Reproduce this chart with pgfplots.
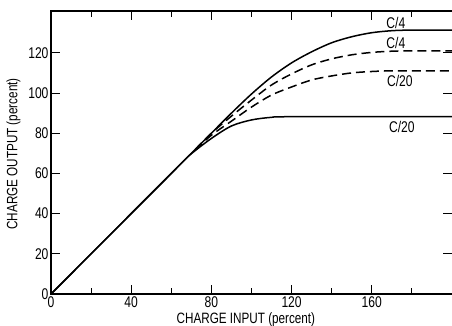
\documentclass[border=0pt]{standalone}
\usepackage{fontspec}
\setmainfont{Liberation Sans}[FakeStretch=0.78]
\usepackage{pgfplots}
\pgfplotsset{compat=1.18}
\begin{document}
\begin{tikzpicture}
\begin{axis}[
  scale only axis, width=401pt, height=283pt,
  xmin=0, xmax=200, ymin=0, ymax=140.8,
  xtick={0,40,80,120,160}, minor xtick={20,60,100,140,180},
  ytick={0,20,40,60,80,100,120},
  tick align=inside,
  major tick length=9pt, minor tick length=6pt,
  tick style={black, line width=0.9pt},
  axis line style={draw=none},
  /pgf/number format/assume math mode=true,
  tick label style={font=\fontsize{15.5}{15.5}\selectfont},
  label style={font=\fontsize{15}{15}\selectfont},
  xticklabel style={yshift=1pt},
  yticklabel style={xshift=1pt},
  xlabel={CHARGE INPUT (percent)},
  ylabel={CHARGE OUTPUT (percent)},
  xlabel style={at={(rel axis cs:0.486,0)}, anchor=north, yshift=-15pt},
  ylabel style={at={(rel axis cs:0,0.495)}, anchor=south, yshift=27pt},
  clip=false,
]
\draw[line width=1.1pt] (rel axis cs:1,1)--(rel axis cs:0,1)--(rel axis cs:0,0)--(rel axis cs:1,0);
\addplot[black, line width=1.5pt, smooth, tension=0.5] coordinates {
 (0,0) (35,35) (70,70) (80,80) (90,90) (100,99.5) (110,108) (120,115) (130,120.5) (140,125) (150,128) (160,130) (170,131) (180,131.3) (200,131.3)};
\addplot[black, line width=1.5pt, dash pattern=on 9pt off 5pt, smooth, tension=0.5] coordinates {
 (72,72) (80,80) (90,88.5) (100,96.5) (110,104) (120,109.5) (130,114) (140,117) (150,119) (160,120.2) (170,120.8) (180,121) (200,121)};
\addplot[black, line width=1.5pt, dash pattern=on 9pt off 5pt, smooth, tension=0.5] coordinates {
 (72,71.7) (80,79) (90,86) (100,93) (110,99) (120,103) (130,106.5) (140,108.5) (150,110) (160,110.7) (170,111) (200,111)};
\addplot[black, line width=1.5pt, smooth, tension=0.5] coordinates {
 (0,0) (35,35) (65,65) (70,69.8) (80,77.4) (90,83.6) (100,86.6) (110,87.9) (120,88.2) (200,88.2)};
\node[font=\fontsize{15.5}{15.5}\selectfont] at (axis cs:172,135) {C/4};
\node[font=\fontsize{15.5}{15.5}\selectfont] at (axis cs:172,125) {C/4};
\node[font=\fontsize{15.5}{15.5}\selectfont] at (axis cs:174,106) {C/20};
\node[font=\fontsize{15.5}{15.5}\selectfont] at (axis cs:175,83) {C/20};
\end{axis}
\pgfresetboundingbox
\useasboundingbox (-51pt,-32pt) rectangle (401pt,294pt);
\end{tikzpicture}
\end{document}
